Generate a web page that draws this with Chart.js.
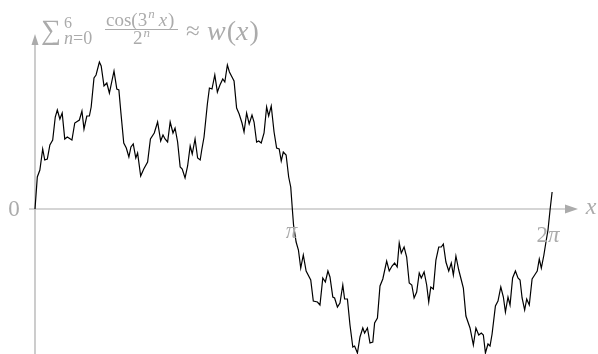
<!DOCTYPE html>
<html>
<head>
<meta charset="utf-8">
<script src="https://cdn.jsdelivr.net/npm/chart.js@4/dist/chart.umd.min.js"></script>
<style>
  body { margin: 0; background: #fff; }
  #wrap { width: 598px; height: 354px; position: relative; }
</style>
</head>
<body>
<div id="wrap"><canvas id="wChart"></canvas></div>
<script>
// x in multiples of pi, y
const xs = [
  0.000, 0.009, 0.019, 0.030, 0.038, 0.048, 0.058, 0.069, 0.079, 0.087,
  0.097, 0.106, 0.116, 0.126, 0.144, 0.155, 0.173, 0.183, 0.191, 0.202,
  0.212, 0.219, 0.230, 0.238, 0.251, 0.258, 0.269, 0.280, 0.290, 0.308,
  0.319, 0.327, 0.335, 0.346, 0.356, 0.366, 0.374, 0.383, 0.393, 0.400,
  0.412, 0.424, 0.439, 0.450, 0.465, 0.478, 0.490, 0.499, 0.507, 0.517,
  0.527, 0.538, 0.546, 0.556, 0.566, 0.574, 0.585, 0.595, 0.605, 0.613,
  0.624, 0.634, 0.644, 0.650, 0.659, 0.672, 0.680, 0.690, 0.701, 0.711,
  0.721, 0.732, 0.740, 0.750, 0.758, 0.768, 0.776, 0.786, 0.796, 0.807,
  0.815, 0.825, 0.835, 0.846, 0.854, 0.864, 0.872, 0.882, 0.893, 0.903,
  0.911, 0.921, 0.932, 0.942, 0.952, 0.960, 0.968, 0.979, 0.989, 0.997,
  1.005, 1.008, 1.018, 1.027, 1.036, 1.046, 1.057, 1.075, 1.085, 1.101,
  1.111, 1.122, 1.132, 1.142, 1.150, 1.161, 1.168, 1.179, 1.189, 1.200,
  1.207, 1.218, 1.228, 1.239, 1.246, 1.257, 1.267, 1.278, 1.285, 1.296,
  1.306, 1.317, 1.324, 1.335, 1.345, 1.356, 1.371, 1.381, 1.392, 1.402,
  1.412, 1.420, 1.428, 1.439, 1.449, 1.459, 1.469, 1.478, 1.488, 1.498,
  1.506, 1.517, 1.527, 1.535, 1.543, 1.553, 1.563, 1.574, 1.584, 1.592,
  1.602, 1.613, 1.623, 1.631, 1.641, 1.652, 1.662, 1.670, 1.680, 1.696,
  1.709, 1.719, 1.730, 1.740, 1.748, 1.756, 1.766, 1.774, 1.782, 1.795,
  1.805, 1.816, 1.826, 1.834, 1.844, 1.852, 1.862, 1.873, 1.883, 1.891,
  1.899, 1.909, 1.917, 1.927, 1.938, 1.948, 1.958, 1.966, 1.974, 1.984,
  1.992, 2.000, 2.008, 2.016
];
const ys = [
  0.00, 0.32, 0.39, 0.60, 0.49, 0.50, 0.64, 0.69, 0.92, 0.99,
  0.90, 0.96, 0.70, 0.72, 0.69, 0.86, 0.89, 0.98, 0.80, 0.93,
  0.93, 1.02, 1.31, 1.34, 1.47, 1.43, 1.23, 1.26, 1.16, 1.38,
  1.20, 1.19, 0.96, 0.66, 0.61, 0.52, 0.62, 0.65, 0.51, 0.56,
  0.33, 0.40, 0.47, 0.70, 0.76, 0.87, 0.68, 0.74, 0.70, 0.67,
  0.87, 0.76, 0.81, 0.67, 0.42, 0.40, 0.31, 0.43, 0.63, 0.55,
  0.70, 0.51, 0.49, 0.59, 0.72, 1.05, 1.21, 1.20, 1.34, 1.17,
  1.24, 1.30, 1.27, 1.44, 1.37, 1.32, 1.28, 1.01, 0.95, 0.86,
  0.77, 0.96, 0.85, 0.94, 0.87, 0.67, 0.68, 0.66, 0.76, 1.02,
  0.93, 1.03, 0.77, 0.61, 0.60, 0.48, 0.57, 0.54, 0.32, 0.22,
  -0.06, -0.16, -0.33, -0.41, -0.59, -0.46, -0.62, -0.71, -0.92, -0.93,
  -0.96, -0.69, -0.73, -0.62, -0.68, -0.88, -0.89, -0.98, -0.94, -0.76,
  -0.90, -0.90, -1.16, -1.38, -1.37, -1.44, -1.28, -1.19, -1.24, -1.19,
  -1.34, -1.33, -1.14, -1.09, -0.77, -0.70, -0.52, -0.62, -0.57, -0.54,
  -0.58, -0.34, -0.44, -0.38, -0.48, -0.74, -0.76, -0.89, -0.83, -0.64,
  -0.69, -0.63, -0.76, -0.93, -0.78, -0.80, -0.51, -0.38, -0.38, -0.35,
  -0.53, -0.62, -0.54, -0.66, -0.47, -0.61, -0.71, -0.79, -1.07, -1.19,
  -1.36, -1.19, -1.26, -1.24, -1.26, -1.44, -1.35, -1.37, -1.25, -0.97,
  -0.92, -0.78, -0.88, -1.03, -0.88, -0.96, -0.69, -0.62, -0.69, -0.71,
  -0.89, -1.01, -0.90, -0.96, -0.70, -0.66, -0.62, -0.50, -0.59, -0.46,
  -0.33, -0.21, -0.01, 0.17
];
const tickValues = [1, 2];
const tickLabels = ['π', '2π'];

const gray = '#ababab';
const serif = '"Liberation Serif", "DejaVu Serif", serif';

function txt(ctx, s, x, y, size, italic, align, base) {
  ctx.font = (italic ? 'italic ' : '') + size + 'px ' + serif;
  ctx.textAlign = align || 'left';
  ctx.textBaseline = base || 'alphabetic';
  ctx.fillText(s, x, y);
  return ctx.measureText(s).width;
}

const axesPlugin = {
  id: 'axesPlugin',
  beforeDatasetsDraw(chart) {
    const ctx = chart.ctx;
    const sx = chart.scales.x, sy = chart.scales.y;
    const x0 = sx.getPixelForValue(0), y0 = sy.getPixelForValue(0);
    ctx.save();
    ctx.strokeStyle = gray;
    ctx.fillStyle = gray;
    ctx.lineWidth = 1.2;
    // x axis
    ctx.beginPath();
    ctx.moveTo(29, y0);
    ctx.lineTo(566, y0);
    ctx.stroke();
    ctx.beginPath();
    ctx.moveTo(578, y0);
    ctx.lineTo(565, y0 - 4.5);
    ctx.lineTo(565, y0 + 4.5);
    ctx.closePath();
    ctx.fill();
    // y axis
    ctx.beginPath();
    ctx.moveTo(x0, 354);
    ctx.lineTo(x0, 44);
    ctx.stroke();
    ctx.beginPath();
    ctx.moveTo(x0, 34);
    ctx.lineTo(x0 - 3.5, 45);
    ctx.lineTo(x0 + 3.5, 45);
    ctx.closePath();
    ctx.fill();
    ctx.restore();
  },
  afterDraw(chart) {
    const ctx = chart.ctx;
    const sx = chart.scales.x, sy = chart.scales.y;
    const y0 = sy.getPixelForValue(0);
    ctx.save();
    ctx.fillStyle = gray;
    ctx.strokeStyle = gray;
    // tick labels
    txt(ctx, '0', 14, y0 + 1, 23, false, 'center', 'middle');
    tickValues.forEach((v, i) => {
      const cx = sx.getPixelForValue(v);
      const lab = tickLabels[i];
      if (lab.length > 1) {
        ctx.font = '23px ' + serif;
        const w1 = ctx.measureText('2').width;
        ctx.font = 'italic 23px ' + serif;
        const w2 = ctx.measureText('π').width;
        const left = cx - (w1 + w2) / 2;
        txt(ctx, '2', left, y0 + 33, 23, false);
        txt(ctx, 'π', left + w1, y0 + 33, 23, true);
      } else {
        txt(ctx, lab, cx, y0 + 29, 23, true, 'center');
      }
    });
    txt(ctx, 'x', 591, y0 - 1, 24, true, 'center', 'middle');

    // title: sum_{n=0}^6 cos(3^n x)/2^n ≈ w(x)
    txt(ctx, '∑', 41, 39, 28, false);
    txt(ctx, '6', 64, 28, 16, false);
    let p = 64;
    p += txt(ctx, 'n', p, 44, 18, true);
    txt(ctx, '=0', p, 44, 18, false);

    p = 106;
    p += txt(ctx, 'cos(3', p, 26, 19, false);
    p += txt(ctx, 'n', p + 1, 18, 13, true) + 5;
    p += txt(ctx, 'x', p, 26, 19, true);
    txt(ctx, ')', p + 1, 26, 19, false);
    ctx.lineWidth = 1;
    ctx.beginPath();
    ctx.moveTo(105, 29.5);
    ctx.lineTo(178, 29.5);
    ctx.stroke();
    p = 133;
    p += txt(ctx, '2', p, 44, 19, false);
    txt(ctx, 'n', p + 1, 37, 13, true);

    txt(ctx, '≈', 186, 39, 25, false);
    p = 207;
    p += txt(ctx, 'w', p, 40, 28, true);
    p += txt(ctx, '(', p + 1, 40, 28, false) + 1;
    p += txt(ctx, 'x', p, 40, 28, true);
    txt(ctx, ')', p + 1, 40, 28, false);
    ctx.restore();
  }
};

new Chart(document.getElementById('wChart'), {
  type: 'line',
  data: {
    datasets: [{
      data: xs.map((x, i) => ({ x: x, y: ys[i] })),
      borderColor: '#000',
      borderWidth: 1.2,
      pointRadius: 0,
      tension: 0,
      fill: false
    }]
  },
  options: {
    responsive: true,
    maintainAspectRatio: false,
    animation: false,
    events: [],
    layout: { padding: 0 },
    plugins: { legend: { display: false }, tooltip: { enabled: false } },
    scales: {
      x: { type: 'linear', display: false, min: -35 / 256.5, max: 563 / 256.5 },
      y: { type: 'linear', display: false, min: -1.45, max: 2.09 }
    }
  },
  plugins: [axesPlugin]
});
</script>
</body>
</html>
